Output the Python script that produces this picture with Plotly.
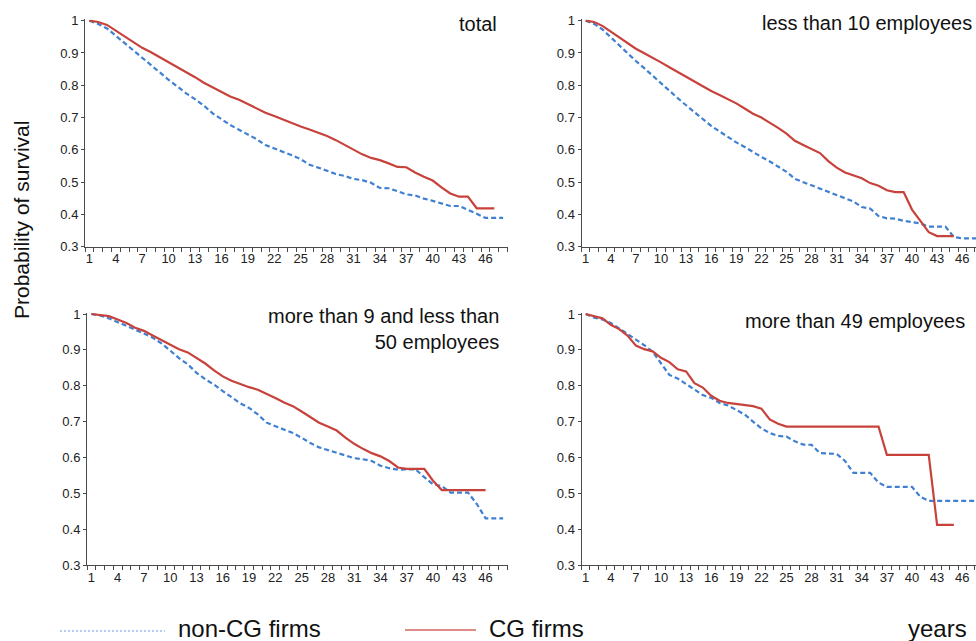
import plotly.graph_objects as go

# ---------------- data ----------------
years = [1, 2, 3, 4, 5, 6, 7, 8, 9, 10, 11, 12, 13, 14, 15, 16, 17, 18, 19, 20,
         21, 22, 23, 24, 25, 26, 27, 28, 29, 30, 31, 32, 33, 34, 35, 36, 37, 38, 39, 40,
         41, 42, 43, 44, 45, 46, 47, 48]
year_labels = [1, 4, 7, 10, 13, 16, 19, 22, 25, 28, 31, 34, 37, 40, 43, 46]
prob_ticks = [0.3, 0.4, 0.5, 0.6, 0.7, 0.8, 0.9, 1.0]
prob_labels = ["0.3", "0.4", "0.5", "0.6", "0.7", "0.8", "0.9", "1"]

panel_titles = ["total", "less than 10 employees",
                "more than 9 and less than<br>50 employees", "more than 49 employees"]

total_cg = [1.0, 0.996, 0.987, 0.969, 0.95, 0.932, 0.916, 0.902, 0.887, 0.870,
            0.856, 0.842, 0.825, 0.808, 0.793, 0.779, 0.765, 0.755, 0.742, 0.729,
            0.715, 0.705, 0.694, 0.682, 0.672, 0.663, 0.654, 0.643, 0.630, 0.616,
            0.600, 0.586, 0.575, 0.568, 0.558, 0.547, 0.546, 0.530, 0.517, 0.505,
            0.484, 0.465, 0.455, 0.455, 0.419, 0.419, 0.419]
total_noncg = [1.0, 0.99, 0.976, 0.953, 0.93, 0.907, 0.884, 0.861, 0.839, 0.817,
               0.796, 0.775, 0.757, 0.737, 0.713, 0.695, 0.677, 0.662, 0.647, 0.633,
               0.615, 0.605, 0.595, 0.583, 0.571, 0.554, 0.545, 0.536, 0.525, 0.519,
               0.51, 0.506, 0.498, 0.482, 0.481, 0.472, 0.462, 0.459, 0.449, 0.442,
               0.433, 0.426, 0.426, 0.415, 0.402, 0.389, 0.389, 0.389]

small_cg = [1.0, 0.996, 0.984, 0.966, 0.947, 0.93, 0.913, 0.899, 0.886, 0.871,
            0.856, 0.841, 0.825, 0.81, 0.796, 0.782, 0.77, 0.758, 0.744, 0.728,
            0.712, 0.7, 0.685, 0.668, 0.65, 0.628, 0.615, 0.602, 0.59, 0.565,
            0.545, 0.53, 0.52, 0.512, 0.497, 0.489, 0.475, 0.469, 0.469, 0.415,
            0.38, 0.345, 0.333, 0.333, 0.333]
small_noncg = [1.0, 0.99, 0.973, 0.948, 0.923, 0.9, 0.875, 0.853, 0.829, 0.806,
               0.784, 0.76, 0.738, 0.716, 0.695, 0.674, 0.657, 0.639, 0.623, 0.609,
               0.593, 0.578, 0.564, 0.548, 0.532, 0.51, 0.5, 0.49, 0.48, 0.47,
               0.458, 0.45, 0.44, 0.423, 0.418, 0.395, 0.388, 0.387, 0.38, 0.376,
               0.372, 0.362, 0.362, 0.362, 0.33, 0.326, 0.326, 0.326]

medium_cg = [1.0, 0.998, 0.994, 0.985, 0.975, 0.962, 0.953, 0.94, 0.927, 0.913,
             0.902, 0.893, 0.878, 0.862, 0.843, 0.826, 0.814, 0.804, 0.796, 0.789,
             0.778, 0.766, 0.753, 0.743, 0.728, 0.712, 0.697, 0.686, 0.675, 0.655,
             0.638, 0.624, 0.612, 0.603, 0.59, 0.572, 0.568, 0.568, 0.568, 0.535,
             0.509, 0.509, 0.509, 0.509, 0.509, 0.509]
medium_noncg = [1.0, 0.996, 0.988, 0.978, 0.966, 0.957, 0.946, 0.934, 0.918, 0.898,
                0.877, 0.86, 0.836, 0.818, 0.803, 0.785, 0.769, 0.751, 0.738, 0.72,
                0.697, 0.688, 0.678, 0.668, 0.655, 0.64, 0.628, 0.621, 0.612, 0.605,
                0.598, 0.595, 0.59, 0.577, 0.57, 0.566, 0.567, 0.567, 0.545, 0.525,
                0.52, 0.502, 0.502, 0.502, 0.47, 0.43, 0.43, 0.43]

large_cg = [1.0, 0.993, 0.988, 0.97, 0.958, 0.94, 0.912, 0.902, 0.896, 0.878,
            0.866, 0.846, 0.84, 0.807, 0.795, 0.772, 0.758, 0.752, 0.749, 0.748,
            0.743, 0.736, 0.706, 0.694, 0.686, 0.686, 0.686, 0.686, 0.686, 0.686,
            0.686, 0.686, 0.686, 0.686, 0.686, 0.686, 0.607, 0.607, 0.607, 0.607,
            0.607, 0.607, 0.412, 0.412, 0.412]
large_noncg = [1.0, 0.99, 0.985, 0.975, 0.96, 0.945, 0.928, 0.913, 0.895, 0.862,
               0.83, 0.82, 0.805, 0.79, 0.774, 0.766, 0.752, 0.745, 0.732, 0.72,
               0.70, 0.681, 0.668, 0.66, 0.658, 0.645, 0.636, 0.635, 0.612, 0.61,
               0.61, 0.59, 0.557, 0.557, 0.557, 0.53, 0.518, 0.518, 0.518, 0.518,
               0.49, 0.479, 0.479, 0.479, 0.479, 0.479, 0.479, 0.479]

# ---------------- style ----------------
W, H = 976, 641
RED = "#c8423c"
BLUE = "#3f80d2"
AX = "#4a4a4a"
FONT = "Liberation Sans, Arial, Helvetica, sans-serif"


def px_x(p):
    return p / W


def px_y(p):
    return 1 - p / H


fig = go.Figure()

panels = [
    ("x", "y", total_cg, total_noncg),
    ("x2", "y2", small_cg, small_noncg),
    ("x3", "y3", medium_cg, medium_noncg),
    ("x4", "y4", large_cg, large_noncg),
]
for xa, ya, cg, noncg in panels:
    fig.add_trace(go.Scatter(x=years[:len(noncg)], y=noncg, mode="lines",
                             line=dict(color=BLUE, width=2.2, dash="5px,3px"),
                             xaxis=xa, yaxis=ya, showlegend=False, hoverinfo="skip"))
    fig.add_trace(go.Scatter(x=years[:len(cg)], y=cg, mode="lines",
                             line=dict(color=RED, width=2.2),
                             xaxis=xa, yaxis=ya, showlegend=False, hoverinfo="skip"))


def xaxis(domain, rng, anchor):
    return dict(domain=domain, range=rng, anchor=anchor, automargin=False,
                tickmode="array", tickvals=year_labels,
                ticktext=[str(v) for v in year_labels], ticks="",
                showline=True, linecolor=AX, linewidth=1,
                showgrid=False, zeroline=False,
                tickfont=dict(size=13, color="#222", family=FONT),
                minor=dict(tickmode="linear", tick0=0.5, dtick=1, ticks="outside",
                           ticklen=4, tickcolor=AX, tickwidth=1, showgrid=False))


def yaxis(domain, anchor):
    return dict(domain=domain, range=[0.3, 1.004], anchor=anchor, automargin=False,
                tickmode="array", tickvals=prob_ticks, ticktext=prob_labels,
                ticks="outside", ticklen=3, tickcolor=AX,
                showline=True, linecolor=AX, linewidth=1,
                showgrid=False, zeroline=False,
                tickfont=dict(size=13, color="#222", family=FONT))


top_dom = [px_y(246.7), px_y(19.4)]
bot_dom = [px_y(565), px_y(312.6)]

fig.update_layout(
    template="none",
    width=W, height=H, autosize=False,
    margin=dict(l=0, r=0, t=0, b=0, pad=0, autoexpand=False),
    paper_bgcolor="white", plot_bgcolor="white",
    font=dict(family=FONT, color="#111"),
    showlegend=False,
    xaxis=xaxis([px_x(85), px_x(507.5)], [0.5, 48.5], "y"),
    yaxis=yaxis(top_dom, "x"),
    xaxis2=xaxis([px_x(581.5), 1.0], [0.5, 47.65], "y2"),
    yaxis2=yaxis(top_dom, "x2"),
    xaxis3=xaxis([px_x(87), px_x(507.5)], [0.5, 48.5], "y3"),
    yaxis3=yaxis(bot_dom, "x3"),
    xaxis4=xaxis([px_x(581.5), 1.0], [0.5, 47.65], "y4"),
    yaxis4=yaxis(bot_dom, "x4"),
)

title_pos = [(499, 24), (974, 23), (501, 329), (967, 321)]
for t, (xp, yp) in zip(panel_titles, title_pos):
    fig.add_annotation(text=t, xref="paper", yref="paper", x=px_x(xp), y=px_y(yp),
                       xanchor="right", yanchor="middle", align="right", showarrow=False,
                       font=dict(size=20, color="#111", family=FONT))

# y-axis title
fig.add_annotation(text="Probability of survival", xref="paper", yref="paper",
                   x=px_x(22), y=px_y(220), textangle=-90, showarrow=False,
                   xanchor="center", yanchor="middle",
                   font=dict(size=21, color="#111", family=FONT))

# legend (drawn manually to match the original key lengths)
fig.add_shape(type="line", xref="paper", yref="paper",
              x0=px_x(60), x1=px_x(165), y0=px_y(631), y1=px_y(631),
              line=dict(color="#6b9be0", width=1.2, dash="2px,2px"))
fig.add_annotation(text="non-CG firms", xref="paper", yref="paper",
                   x=px_x(176), y=px_y(628), xanchor="left", yanchor="middle",
                   showarrow=False, font=dict(size=24, color="#111", family=FONT))
fig.add_shape(type="line", xref="paper", yref="paper",
              x0=px_x(405), x1=px_x(476), y0=px_y(630), y1=px_y(630),
              line=dict(color="#d46460", width=1.5))
fig.add_annotation(text="CG firms", xref="paper", yref="paper",
                   x=px_x(487), y=px_y(628), xanchor="left", yanchor="middle",
                   showarrow=False, font=dict(size=24, color="#111", family=FONT))
fig.add_annotation(text="years", xref="paper", yref="paper",
                   x=px_x(969), y=px_y(628), xanchor="right", yanchor="middle",
                   showarrow=False, font=dict(size=24, color="#111", family=FONT))

fig.write_html("out.html", config={"displayModeBar": False},
               post_script="document.body.style.margin='0';"
                           "document.body.style.overflow='hidden';")
